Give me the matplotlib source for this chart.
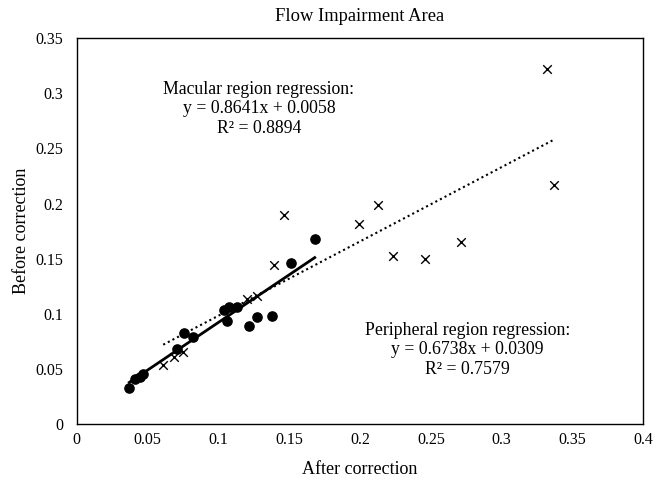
import numpy as np
import matplotlib
matplotlib.use("Agg")
import matplotlib.pyplot as plt

plt.rcParams['font.family'] = ['Liberation Serif', 'DejaVu Serif']

# macular region (filled dots)
mac_x = [0.037, 0.041, 0.0445, 0.047, 0.0707, 0.076, 0.082, 0.104, 0.1074,
         0.113, 0.106, 0.1215, 0.127, 0.138, 0.151, 0.168]
mac_y = [0.033, 0.041, 0.0426, 0.045, 0.068, 0.0825, 0.079, 0.1033, 0.106,
         0.106, 0.0934, 0.089, 0.097, 0.098, 0.146, 0.168]

# peripheral region (crosses)
per_x = [0.061, 0.0686, 0.075, 0.120, 0.127, 0.139, 0.146, 0.199, 0.213,
         0.223, 0.246, 0.271, 0.332, 0.337]
per_y = [0.0535, 0.061, 0.065, 0.113, 0.116, 0.144, 0.190, 0.181, 0.199,
         0.152, 0.150, 0.165, 0.322, 0.217]

mac_fit = (0.8641, 0.0058)
per_fit = (0.6738, 0.0309)

xticks = [0, 0.05, 0.1, 0.15, 0.2, 0.25, 0.3, 0.35, 0.4]
yticks = [0, 0.05, 0.1, 0.15, 0.2, 0.25, 0.3, 0.35]

fig = plt.figure(figsize=(6.57, 4.83), dpi=100)
ax = fig.add_axes([0.117, 0.122, 0.862, 0.799])

ax.scatter(mac_x, mac_y, s=44, c='black', marker='o', zorder=3)
ax.scatter(per_x, per_y, s=38, c='black', marker='x', linewidths=1.0, zorder=3)

# trend lines
lx = np.array([min(mac_x), max(mac_x)])
ax.plot(lx, mac_fit[0] * lx + mac_fit[1], color='black', lw=2)
px = np.array([min(per_x), max(per_x)])
ax.plot(px, per_fit[0] * px + per_fit[1], color='black', lw=1.5, ls=(0, (1, 1.5)))

ax.text(0.1286, 0.3115, 'Macular region regression:\ny = 0.8641x + 0.0058\nR² = 0.8894',
        ha='center', va='top', fontsize=12.8, linespacing=1.2)
ax.text(0.276, 0.0927, 'Peripheral region regression:\ny = 0.6738x + 0.0309\nR² = 0.7579',
        ha='center', va='top', fontsize=12.8, linespacing=1.2)

ax.set_xlim(0, 0.4)
ax.set_ylim(0, 0.35)
ax.set_xticks(xticks)
ax.set_xticklabels(['%g' % t for t in xticks])
ax.set_yticks(yticks)
ax.set_yticklabels(['%g' % t for t in yticks])
ax.tick_params(length=0, labelsize=11.5)
ax.tick_params(axis='x', pad=6)
ax.tick_params(axis='y', pad=10)
for sp in ax.spines.values():
    sp.set_linewidth(1.0)

ax.set_title('Flow Impairment Area', fontsize=13.3, pad=12)
ax.set_xlabel('After correction', fontsize=13, labelpad=9)
ax.set_ylabel('Before correction', fontsize=13, labelpad=4)

fig.savefig('out.png', dpi=100)
